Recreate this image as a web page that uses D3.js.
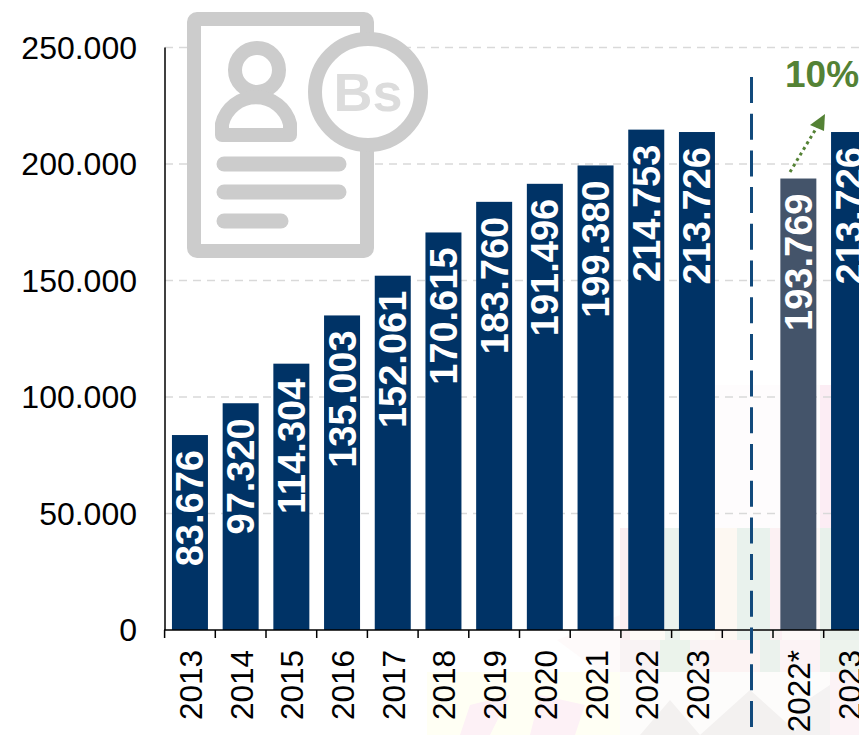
<!DOCTYPE html>
<html><head><meta charset="utf-8">
<script src="https://cdn.jsdelivr.net/npm/d3@7"></script>
<style>html,body{margin:0;padding:0;background:#fff;overflow:hidden}svg{display:block}text{font-family:"Liberation Sans",Arial,sans-serif}</style>
</head><body><div id="c"></div>
<script>
const categories = ["2013","2014","2015","2016","2017","2018","2019","2020","2021","2022","2023","","2022*","2023 "];
const seriesValues = [83676,97320,114304,135003,152061,170615,183760,191496,199380,214753,213726,null,193769,213726];
const valueLabels = ["83.676","97.320","114.304","135.003","152.061","170.615","183.760","191.496","199.380","214.753","213.726","","193.769","213.726"];
const yTickValues = [0,50000,100000,150000,200000,250000];
const yTickLabels = ["0","50.000","100.000","150.000","200.000","250.000"];
const growthLabel = "10%";
const W=859,H=735;
const svg=d3.select("#c").append("svg").attr("width",W).attr("height",H);
const x=d3.scaleBand().domain(categories).range([164.6,874.4]).paddingInner(0.29).paddingOuter(0.145);
const y=d3.scaleLinear().domain([0,250000]).range([630,47.5]);

// faint decorative backdrop
const bg=svg.append("g");
const tints=[
 [715,385,144,143,"#fefcfd"],[820,385,39,145,"#fcedf4"],
 [620,528,239,144,"#fdf9f7"],[630,528,85,144,"#fdfbf6"],[620,528,10,144,"#fbeef1"],
 [665,528,15,112,"#ebf3ee"],[715,528,50,112,"#fdf8f2"],[737,528,33,112,"#e9f2ed"],[770,528,12,112,"#fcf1f3"],[820,528,39,112,"#e8f1eb"],
 [620,640,140,32,"#f9f3f4"],[660,640,30,32,"#ebf3eb"],[700,640,60,32,"#fcf3f3"],[760,640,20,32,"#ebf2ed"],[780,640,40,32,"#fcf3f5"],[820,640,39,32,"#edf3ed"],
 [427,672,193,63,"#fffff4"],[620,672,239,63,"#fdfcfb"],[830,672,29,63,"#fcf3f6"]];
tints.forEach(d=>bg.append("rect").attr("x",d[0]).attr("y",d[1]).attr("width",d[2]).attr("height",d[3]).attr("fill",d[4]));
bg.append("path").attr("d","M557 640 L620 615 V672 H600 Z").attr("fill","#fefafa");
bg.append("path").attr("d","M700 735 L750 690 L800 735 Z M640 735 L670 700 L700 735 Z").attr("fill","#f3f1f0");
bg.append("path").attr("d","M470 705 L510 695 L490 735 H460 Z M540 695 L585 705 L575 735 H530 Z").attr("fill","#fdf1f6");
bg.append("path").attr("d","M800 705 L830 685 L830 735 H795 Z").attr("fill","#f4f2f2");

// grid
svg.append("g").selectAll("line").data(yTickValues.slice(1)).join("line")
 .attr("x1",165).attr("x2",W).attr("y1",d=>y(d)).attr("y2",d=>y(d))
 .attr("stroke","#d9d9d9").attr("stroke-width",1.6).attr("stroke-dasharray","8 6");

// icon
const ic=svg.append("g");
ic.append("rect").attr("x",194).attr("y",19).attr("width",173).attr("height",232).attr("rx",3).attr("fill","#fff").attr("stroke","#cccccc").attr("stroke-width",14);
ic.append("circle").attr("cx",257).attr("cy",70).attr("r",22).attr("fill","none").attr("stroke","#cccccc").attr("stroke-width",14);
ic.append("path").attr("d","M222 135 V124 A35 35 0 0 1 290 124 V135 Z").attr("fill","none").attr("stroke","#cccccc").attr("stroke-width",14).attr("stroke-linejoin","round");
[[224,339,164],[224,339,192],[224,281,221]].forEach(d=>ic.append("line").attr("x1",d[0]).attr("x2",d[1]).attr("y1",d[2]).attr("y2",d[2]).attr("stroke","#cccccc").attr("stroke-width",15).attr("stroke-linecap","round"));
ic.append("circle").attr("cx",368).attr("cy",92).attr("r",53).attr("fill","#fff").attr("stroke","#cccccc").attr("stroke-width",14);
ic.append("text").attr("x",368).attr("y",111).attr("text-anchor","middle").attr("font-size",54).attr("font-weight","bold").attr("fill","#dcdcdc").text("Bs");

// bars
const rows=categories.map((c,i)=>({c,v:seriesValues[i],l:valueLabels[i]})).filter(d=>d.v!=null);
svg.append("g").selectAll("rect").data(rows).join("rect")
 .attr("x",d=>x(d.c)).attr("width",x.bandwidth()).attr("y",d=>y(d.v)).attr("height",d=>y(0)-y(d.v))
 .attr("fill",d=>d.c==="2022*"?"#44546a":"#003366");
svg.append("g").selectAll("text").data(rows).join("text")
 .attr("transform",d=>`translate(${x(d.c)+x.bandwidth()/2+13.5},${y(d.v)+15}) rotate(-90)`)
 .attr("text-anchor","end").attr("font-size",38).attr("font-weight","bold").attr("fill","#fff").text(d=>d.l);

// axes
const ax=svg.append("g");
ax.append("line").attr("x1",165).attr("x2",165).attr("y1",47.5).attr("y2",630).attr("stroke","#000").attr("stroke-width",1.5);
const step=x.step();
const xTicks=d3.range(0,15).map(i=>164.6+i*step);
ax.append("line").attr("x1",164).attr("x2",W).attr("y1",630).attr("y2",630).attr("stroke","#000").attr("stroke-width",1.5);
ax.selectAll("line.t").data(xTicks).join("line").attr("class","t").attr("x1",d=>d).attr("x2",d=>d).attr("y1",630).attr("y2",638).attr("stroke","#000").attr("stroke-width",1.5);
svg.append("g").selectAll("text").data(yTickValues).join("text")
 .attr("x",137).attr("y",d=>y(d)+11).attr("text-anchor","end").attr("font-size",32).attr("fill","#000").text((d,i)=>yTickLabels[i]);
svg.append("g").selectAll("text").data(rows).join("text")
 .attr("transform",d=>`translate(${x(d.c)+x.bandwidth()/2+12},650) rotate(-90)`)
 .attr("text-anchor","end").attr("font-size",31.5).attr("fill","#000").text(d=>d.c.trim());

// separator and arrow
svg.append("line").attr("x1",751.5).attr("x2",751.5).attr("y1",77).attr("y2",728).attr("stroke","#124a7c").attr("stroke-width",3).attr("stroke-dasharray","26 10.7");
svg.append("line").attr("x1",790).attr("y1",172).attr("x2",817).attr("y2",127).attr("stroke","#548235").attr("stroke-width",3).attr("stroke-dasharray","3 3.5");
svg.append("path").attr("d","M825 114 L810 125 L824 131 Z").attr("fill","#548235");
svg.append("text").attr("x",785).attr("y",87).attr("font-size",37).attr("font-weight","bold").attr("fill","#548235").text(growthLabel);
</script></body></html>
